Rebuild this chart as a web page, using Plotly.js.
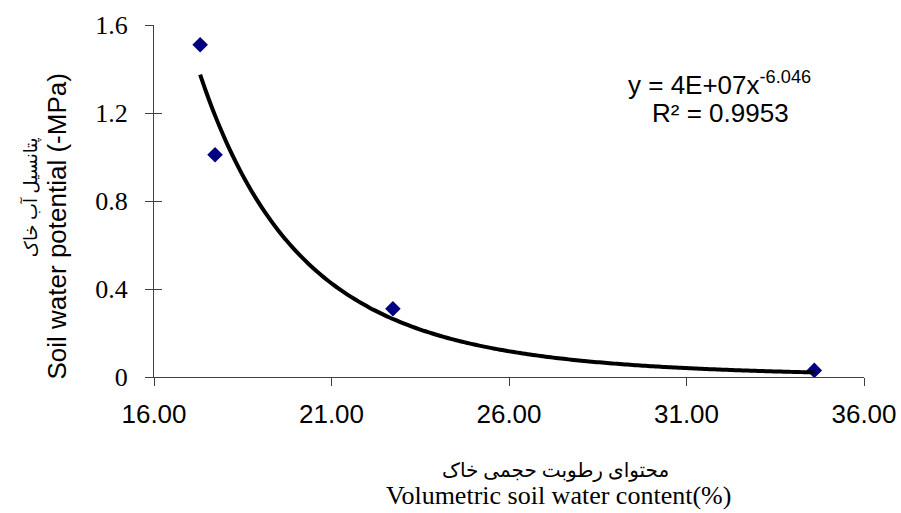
<!DOCTYPE html>
<html>
<head>
<meta charset="utf-8">
<script src="https://cdn.plot.ly/plotly-3.0.1.min.js"></script>
<style>html,body{margin:0;padding:0;background:#fff;}#chart{width:901px;height:513px;}</style>
</head>
<body>
<div id="chart"></div>
<script>
// Observed data (volumetric soil water content %, soil water potential -MPa)
const waterContent = [17.3, 17.72, 22.73, 34.6];
const waterPotential = [1.51, 1.01, 0.31, 0.03];

// Power trendline y = a * x^b (equation shown on chart: y = 4E+07x^-6.046)
const trendA = 4.2e7;
const trendB = -6.046;
const trendLabel = 'y = 4E+07x<sup>-6.046</sup>';
const r2Label = 'R² = 0.9953';

const xTickVals = [16, 21, 26, 31, 36];
const xTickText = ['16.00', '21.00', '26.00', '31.00', '36.00'];
const yTickVals = [0, 0.4, 0.8, 1.2, 1.6];
const yTickText = ['0', '0.4', '0.8', '1.2', '1.6'];

const xTitleFa = 'محتوای رطوبت حجمی خاک';
const xTitleEn = 'Volumetric soil water content(%)';
const yTitleFa = 'پتانسیل آب خاک';
const yTitleEn = 'Soil water potential (-MPa)';

// trendline across the data range
const xMin = Math.min(...waterContent), xMax = Math.max(...waterContent);
const trendX = [], trendY = [];
const nSteps = 120;
for (let i = 0; i <= nSteps; i++) {
  const x = xMin + (xMax - xMin) * i / nSteps;
  trendX.push(x);
  trendY.push(trendA * Math.pow(x, trendB));
}

const serif = '"Liberation Serif", "Times New Roman", "DejaVu Sans", serif';
const sans = '"Liberation Sans", Arial, sans-serif';

const traces = [
  {
    x: trendX, y: trendY, type: 'scatter', mode: 'lines', yaxis: 'y2',
    line: {color: '#000000', width: 4, shape: 'spline'},
    hoverinfo: 'skip', showlegend: false
  },
  {
    x: waterContent, y: waterPotential, type: 'scatter', mode: 'markers',
    marker: {symbol: 'diamond', size: 12, color: '#000080'},
    showlegend: false
  }
];

const axisColor = '#404040';
const layout = {
  width: 901, height: 513,
  margin: {l: 154, r: 37, t: 25, b: 136},
  paper_bgcolor: '#ffffff', plot_bgcolor: '#ffffff',
  showlegend: false,
  xaxis: {
    range: [16, 36], tickvals: xTickVals, ticktext: xTickText,
    ticks: 'outside', ticklen: 8, tickcolor: axisColor, tickwidth: 1,
    showline: true, linecolor: axisColor, linewidth: 1,
    showgrid: false, zeroline: false,
    tickfont: {family: sans, size: 26, color: '#000'},
    ticklabelstandoff: 6
  },
  yaxis: {
    range: [0, 1.6], tickvals: yTickVals, ticktext: yTickText,
    ticks: 'outside', ticklen: 8, tickcolor: axisColor, tickwidth: 1,
    showline: true, linecolor: axisColor, linewidth: 1,
    showgrid: false, zeroline: false,
    tickfont: {family: serif, size: 26, color: '#000'},
    ticklabelstandoff: 12
  },
  yaxis2: {
    overlaying: 'y', side: 'left', range: [0, 1.6],
    tickvals: yTickVals, ticks: 'inside', ticklen: 8, tickcolor: axisColor, tickwidth: 1,
    showticklabels: false, showline: false, showgrid: false, zeroline: false
  },
  annotations: [
    {xref: 'paper', yref: 'paper', x: -0.1366, y: 0.4276, text: yTitleEn, textangle: -90,
     showarrow: false, xanchor: 'center', yanchor: 'middle',
     font: {family: sans, size: 26, color: '#000'}},
    {xref: 'paper', yref: 'paper', x: -0.1746, y: 0.511, text: yTitleFa, textangle: -90,
     showarrow: false, xanchor: 'center', yanchor: 'middle',
     font: {family: serif, size: 18, color: '#000'}},
    {xref: 'paper', yref: 'paper', x: 0.5648, y: -0.267, text: xTitleFa,
     showarrow: false, xanchor: 'center', yanchor: 'middle',
     font: {family: serif, size: 20, color: '#000'}},
    {xref: 'paper', yref: 'paper', x: 0.5704, y: -0.338, text: xTitleEn,
     showarrow: false, xanchor: 'center', yanchor: 'middle',
     font: {family: serif, size: 26, color: '#000'}},
    {xref: 'paper', yref: 'paper', x: 0.797, y: 0.835, text: trendLabel,
     showarrow: false, xanchor: 'center', yanchor: 'middle',
     font: {family: sans, size: 26, color: '#000'}},
    {xref: 'paper', yref: 'paper', x: 0.798, y: 0.75, text: r2Label,
     showarrow: false, xanchor: 'center', yanchor: 'middle',
     font: {family: sans, size: 26, color: '#000'}}
  ]
};

Plotly.newPlot('chart', traces, layout, {displayModeBar: false, staticPlot: true});
</script>
</body>
</html>
